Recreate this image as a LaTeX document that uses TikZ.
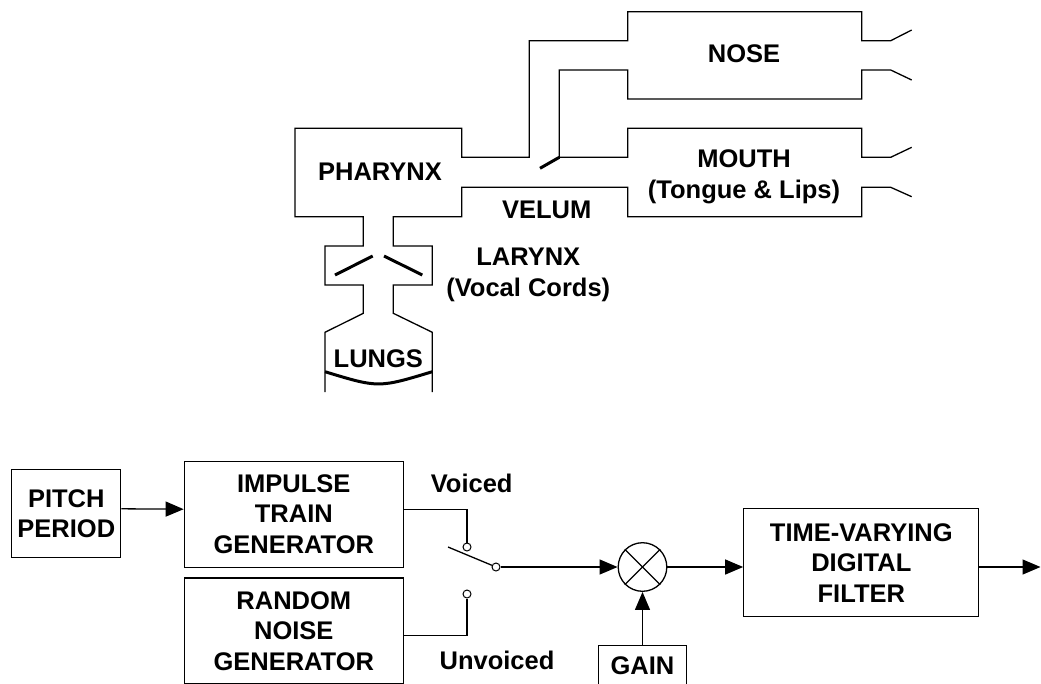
\documentclass[tikz,border=0pt]{standalone}
\usepackage{fontspec}
\setmainfont{Liberation Sans}
\usetikzlibrary{arrows.meta}

\begin{document}
\begin{tikzpicture}[x = 1pt, y = -1pt, % pixel grid, y runs downwards
                > = {Triangle[length = 18pt, width = 15pt]}, % arrow head style
                line width = 1.3pt, % line style
                line join = miter
            ]

            \tikzstyle{every node}=[inner sep = 0pt, align = center,
            font = \fontsize{25.5}{30.6}\selectfont\bfseries]
            \tikzstyle{block}=[draw, rectangle]
            \tikzstyle{contact}=[draw, circle, fill = white, line width = 1pt,
            minimum size = 8pt]
            \tikzstyle{flap}=[line width = 3pt]

            \useasboundingbox (0,0) rectangle (1041,683);
            \clip (0,0) rectangle (1041,683);

            % vocal tract walls
            \draw (911.7,30) -- (890.7,40.7) -- (861.7,40.7) -- (861.7,11.7)
            -- (627.7,11.7) -- (627.7,40.7) -- (529.3,40.7) -- (529.3,157.3)
            -- (461.7,157.3) -- (461.7,128.3) -- (295,128.3) -- (295,216.7)
            -- (363.3,216.7) -- (363.3,246) -- (325,246) -- (325,285)
            -- (363.3,285) -- (363.3,313.3) -- (325,332.3) -- (325,392);
            \draw (911.7,196.7) -- (890.7,187.3) -- (861.7,187.3) -- (861.7,216.7)
            -- (627.7,216.7) -- (627.7,187.3) -- (461.7,187.3) -- (461.7,216.7)
            -- (393.3,216.7) -- (393.3,246) -- (432.3,246) -- (432.3,285)
            -- (393.3,285) -- (393.3,313.3) -- (432.3,332.3) -- (432.3,392);
            \draw (911.7,80) -- (890.7,70) -- (861.7,70) -- (861.7,99)
            -- (627.7,99) -- (627.7,70) -- (559.3,70) -- (559.3,157.3)
            -- (627.7,157.3) -- (627.7,128.3) -- (861.7,128.3) -- (861.7,157.3)
            -- (890.7,157.3) -- (911.7,147.3);
            \draw[flap] (540,168.3) -- (559.3,157.3);
            \draw[flap] (335,275) -- (372.7,256); \draw[flap] (384,256) -- (422.3,275);
            \draw[flap] (325,371.7) .. controls (378.5,388) .. (432.3,371.7);

            \node (1) at (380,171.7) {PHARYNX}; \node (2) at (546.7,210) {VELUM};
            \node (3) at (528.3,274.7) {LARYNX\\(Vocal Cords)};
            \node (4) at (378.3,358.3) {LUNGS}; \node (5) at (744,54) {NOSE};
            \node (6) at (744,177) {MOUTH\\(Tongue \& Lips)};

            % source-filter model
            \node[block, minimum width = 109pt, minimum height = 88pt] (7) at (66.3,513.8)
            {PITCH\\PERIOD};
            \node[block, minimum width = 219pt, minimum height = 106pt] (8) at (293.8,514.2)
            {IMPULSE\\TRAIN\\GENERATOR};
            \node[block, minimum width = 219pt, minimum height = 106pt] (9) at (293.8,631)
            {RANDOM\\NOISE\\GENERATOR};
            \node[contact] (10) at (467,547) {}; \node[contact] (11) at (496,567) {};
            \node[contact] (12) at (467,594) {}; \coordinate (13) at (448,547);
            \node[draw, circle, minimum size = 48.6pt] (14) at (642.5,567) {};
            \node[block, minimum width = 235pt, minimum height = 108pt] (15) at (861.3,562.8)
            {TIME-VARYING\\DIGITAL\\FILTER};
            \coordinate (16) at (1040.5,567);
            \node[block, minimum width = 88pt, minimum height = 41pt] (17) at (642.5,666)
            {GAIN};
            \node (18) at (471.7,483.3) {Voiced}; \node (19) at (497,660) {Unvoiced};

            \path[->] ([yshift = 5pt]7.east) edge ([yshift = 5pt]8.west);
            \draw ([yshift = 5pt]8.east) -| (10); \draw ([yshift = -4.7pt]9.east) -| (12);
            \draw (13) -- (11); \path[->] (11) edge (14);
            \draw (14.north west) -- (14.south east); \draw (14.north east) -- (14.south west);
            \path[->] (14) edge (14 -| 15.west); \path[->] (15.east |- 14) edge (16);
            \path[->] (17) edge (14);
        \end{tikzpicture}
\end{document}
